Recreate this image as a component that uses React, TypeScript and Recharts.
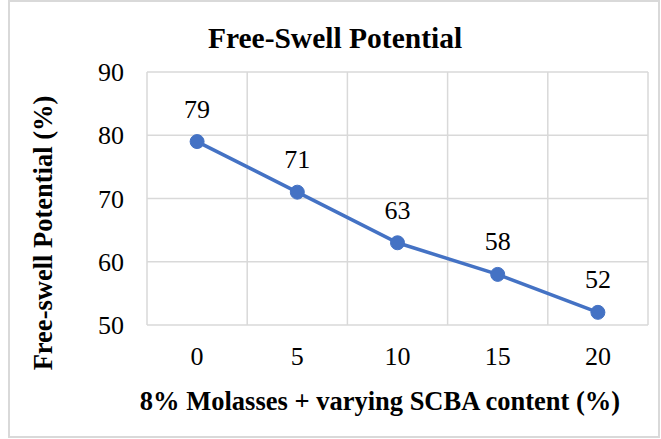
import React from "react";
import { LineChart, Line, XAxis, YAxis, CartesianGrid, LabelList, Customized } from "recharts";

const categories = ["0", "5", "10", "15", "20"];
const freeSwell = [79, 71, 63, 58, 52];
const yTicks = [50, 60, 70, 80, 90];

const chartTitle = "Free-Swell Potential";
const xTitle = "8% Molasses + varying SCBA content (%)";
const yTitle = "Free-swell Potential (%)";

const data = categories.map((c, i) => ({ x: c, v: freeSwell[i] }));

const FONT = "'Liberation Serif', 'Times New Roman', serif";
const W = 652;
const H = 438;

const Titles = () => (
  <g>
    <text x={327} y={48} textAnchor="middle" fontWeight="bold" fontSize={29.5} fill="#000">
      {chartTitle}
    </text>
    <text x={372} y={410} textAnchor="middle" fontWeight="bold" fontSize={26.5} fill="#000">
      {xTitle}
    </text>
    <text
      x={44}
      y={233}
      textAnchor="middle"
      transform="rotate(-90, 44, 233)"
      fontWeight="bold"
      fontSize={26.5}
      fill="#000"
    >
      {yTitle}
    </text>
  </g>
);

export default function App() {
  return (
    <div style={{ position: "absolute", left: 8, top: 0, width: W, height: H, fontFamily: FONT }}>
      <style>{`svg text, svg tspan { font-family: 'Liberation Serif', 'Times New Roman', serif !important; }`}</style>
      <LineChart
        width={W}
        height={H}
        data={data}
        margin={{ top: 72, right: 12, bottom: 0, left: 0 }}
      >
        <CartesianGrid
          stroke="#d9d9d9"
          strokeWidth={1.5}
          verticalCoordinatesGenerator={({ offset }: any) =>
            categories.map((_, i) => offset.left + (i * offset.width) / categories.length).concat([offset.left + offset.width])
          }
        />
        <XAxis
          dataKey="x"
          scale="band"
          axisLine={false}
          tickLine={false}
          tickSize={0}
          tickMargin={22}
          height={113}
          interval={0}
          tick={{ fill: "#000", fontSize: 26 }}
        />
        <YAxis
          domain={[50, 90]}
          ticks={yTicks}
          axisLine={false}
          tickLine={false}
          tickSize={0}
          tickMargin={23}
          width={139}
          interval={0}
          tick={{ fill: "#000", fontSize: 26 }}
        />
        <Line
          type="linear"
          dataKey="v"
          stroke="#4472C4"
          strokeWidth={3.5}
          dot={{ r: 7, fill: "#4472C4", stroke: "#4472C4", strokeWidth: 1 }}
          activeDot={false}
          isAnimationActive={false}
        >
          <LabelList dataKey="v" position="top" offset={24} fill="#000" fontSize={26} />
        </Line>
        <Customized component={Titles} />
      </LineChart>
      <div
        style={{
          position: "absolute",
          left: 0,
          top: 0,
          width: W,
          height: H,
          boxSizing: "border-box",
          border: "2px solid #d9d9d9",
          pointerEvents: "none",
        }}
      />
    </div>
  );
}
